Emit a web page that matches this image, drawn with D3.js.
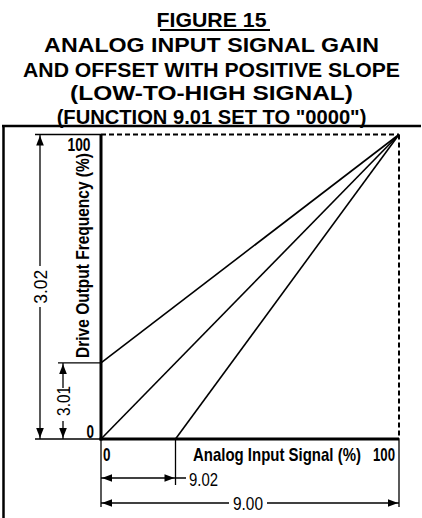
<!DOCTYPE html>
<html>
<head>
<meta charset="utf-8">
<script src="https://cdn.jsdelivr.net/npm/d3@7"></script>
<style>
  html, body { margin: 0; padding: 0; background: #fff; }
  svg { display: block; }
</style>
</head>
<body>
<svg id="chart" width="422" height="518"></svg>
<script>
// Title lines
const titleLines = [
  "FIGURE 15",
  "ANALOG INPUT SIGNAL GAIN",
  "AND OFFSET WITH POSITIVE SLOPE",
  "(LOW-TO-HIGH SIGNAL)",
  "(FUNCTION 9.01 SET TO \"0000\")"
];

// Axis labels and tick labels (percent)
const xTitle = "Analog Input Signal (%)";
const yTitle = "Drive Output Frequency (%)";
const xTickValues = [0, 100];
const yTickValues = [0, 100];

// Three response lines: start point (signal %, frequency %) to the common 100/100 end point
const lineNames = ["offset 3.01", "no offset", "bias 9.02"];
const lineStartX = [0, 0, 25];
const lineStartY = [25, 0, 0];
const lineEndX = [100, 100, 100];
const lineEndY = [100, 100, 100];

// Dimension parameters (percent)
const offset301 = 25;   // 3.01 output offset
const bias902 = 25;     // 9.02 input bias
const dimLabels = ["3.02", "3.01", "9.02", "9.00"];

const svg = d3.select("#chart");
const x = d3.scaleLinear().domain([0, 100]).range([101, 399]);
const y = d3.scaleLinear().domain([0, 100]).range([439, 134.5]);

const font = "'Liberation Sans', Arial, sans-serif";

// Places a text at (tx, ty), optionally rotated, squeezed horizontally to a set width
function label(parent, t, tx, ty, opts) {
  const el = parent.append("text")
    .attr("x", 0).attr("y", 0)
    .attr("text-anchor", opts.anchor || "start")
    .attr("font-family", font)
    .attr("font-weight", opts.bold ? "bold" : "normal")
    .attr("font-size", opts.size)
    .text(t);
  const w = el.node().getComputedTextLength();
  const k = opts.width ? opts.width / w : 1;
  el.attr("transform", "translate(" + tx + "," + ty + ")" +
    (opts.rotate ? " rotate(-90)" : "") + " scale(" + k + ",1)");
  return el;
}

// ---- title block ----
const titleBase = [27, 52, 77, 100, 124];
const titleSpan = [[160, 270], [45, 380], [25, 402], [71, 354], [57, 367]];
titleLines.forEach((t, i) => {
  label(svg, t, 211.5, titleBase[i],
    { anchor: "middle", bold: true, size: 20, width: titleSpan[i][1] - titleSpan[i][0] });
});
svg.append("line").attr("x1", 160).attr("x2", 270).attr("y1", 30).attr("y2", 30)
  .attr("stroke", "#000").attr("stroke-width", 2);

// ---- outer frame (top and left edges) ----
svg.append("line").attr("x1", 2).attr("x2", 421).attr("y1", 126).attr("y2", 126)
  .attr("stroke", "#000").attr("stroke-width", 2.5);
svg.append("line").attr("x1", 3.5).attr("x2", 3.5).attr("y1", 125).attr("y2", 518)
  .attr("stroke", "#000").attr("stroke-width", 2.5);

const g = svg.append("g");

// dashed 100% guides
g.append("line").attr("x1", x(0)).attr("x2", x(100)).attr("y1", y(100)).attr("y2", y(100))
  .attr("stroke", "#000").attr("stroke-width", 2).attr("stroke-dasharray", "5,3");
g.append("line").attr("x1", x(100)).attr("x2", x(100)).attr("y1", y(100)).attr("y2", y(0))
  .attr("stroke", "#000").attr("stroke-width", 2).attr("stroke-dasharray", "5,3");

// response lines
const lineGen = d3.line().x(d => x(d[0])).y(d => y(d[1]));
lineNames.forEach((n, i) => {
  g.append("path")
    .attr("d", lineGen([[lineStartX[i], lineStartY[i]], [lineEndX[i], lineEndY[i]]]))
    .attr("fill", "none").attr("stroke", "#000").attr("stroke-width", 1.6);
});

// axes (heavy lines)
g.append("line").attr("x1", x(0)).attr("x2", x(0)).attr("y1", y(100)).attr("y2", y(0) + 1.5)
  .attr("stroke", "#000").attr("stroke-width", 3);
g.append("line").attr("x1", x(0) - 1.5).attr("x2", x(100)).attr("y1", y(0)).attr("y2", y(0))
  .attr("stroke", "#000").attr("stroke-width", 3);

// tick labels
yTickValues.forEach(d => {
  label(g, String(d), d === 0 ? 94 : 90.5, d === 0 ? y(d) - 1 : y(d) + 16.5,
    { anchor: "end", bold: true, size: 18, width: d === 0 ? 7.5 : 23 });
});
xTickValues.forEach(d => {
  label(g, String(d), d === 0 ? x(d) + 2 : x(d) - 4, 461,
    { anchor: d === 0 ? "start" : "end", bold: true, size: 18, width: d === 0 ? 7.5 : 22 });
});

// axis titles
label(g, xTitle, 193, 461, { bold: true, size: 18, width: 168 });
label(g, yTitle, 89, 255.5, { anchor: "middle", bold: true, size: 18, width: 205, rotate: true });

// ---- dimension lines ----
const dim = svg.append("g").attr("stroke", "#000").attr("stroke-width", 1.3).attr("fill", "none");
function seg(x1, y1, x2, y2) {
  dim.append("line").attr("x1", x1).attr("y1", y1).attr("x2", x2).attr("y2", y2);
}
// arrowhead with its tip at (tx, ty) pointing in direction dir: "up","down","left","right"
function arrow(tx, ty, dir) {
  const L = 10, W = 3.8;
  let pts;
  if (dir === "up") pts = [[tx, ty], [tx - W, ty + L], [tx + W, ty + L]];
  if (dir === "down") pts = [[tx, ty], [tx - W, ty - L], [tx + W, ty - L]];
  if (dir === "left") pts = [[tx, ty], [tx + L, ty - W], [tx + L, ty + W]];
  if (dir === "right") pts = [[tx, ty], [tx - L, ty - W], [tx - L, ty + W]];
  svg.append("path").attr("d", "M" + pts.map(p => p.join(",")).join("L") + "Z")
    .attr("fill", "#000").attr("stroke", "none");
}

// 3.02: full output span
const x302 = 40;
seg(35, y(100), x(0), y(100));
seg(35, y(0), x(0), y(0));
seg(x302, y(100), x302, 266);
seg(x302, 307, x302, y(0));
arrow(x302, y(100) + 1, "up");
arrow(x302, y(0) - 1, "down");
label(svg, dimLabels[0], x302 + 6.5, (y(100) + y(0)) / 2,
  { anchor: "middle", size: 18, width: 34, rotate: true });

// 3.01: output offset
const x301 = 63;
seg(58, y(offset301), x(0), y(offset301));
seg(x301, y(offset301), x301, 388);
seg(x301, 421, x301, y(0));
arrow(x301, y(offset301) + 1, "up");
arrow(x301, y(0) - 1, "down");
label(svg, dimLabels[1], x301 + 6.5, (y(offset301) + y(0)) / 2,
  { anchor: "middle", size: 18, width: 30, rotate: true });

// vertical extension lines below the axis
seg(x(0), y(0), x(0), 507);
seg(x(100), y(0), x(100), 507);
seg(x(bias902), y(0), x(bias902), 485);

// 9.02: input bias
const y902 = 478;
seg(x(0), y902, 186, y902);
arrow(x(0) + 1, y902, "left");
arrow(x(bias902) - 1, y902, "right");
label(svg, dimLabels[2], 189, 486, { size: 18, width: 29 });

// 9.00: full input span
const y900 = 503;
seg(x(0), y900, 229, y900);
seg(267, y900, x(100), y900);
arrow(x(0) + 1, y900, "left");
arrow(x(100) - 1, y900, "right");
label(svg, dimLabels[3], 248, 509.5, { anchor: "middle", size: 18, width: 30 });
</script>
</body>
</html>
